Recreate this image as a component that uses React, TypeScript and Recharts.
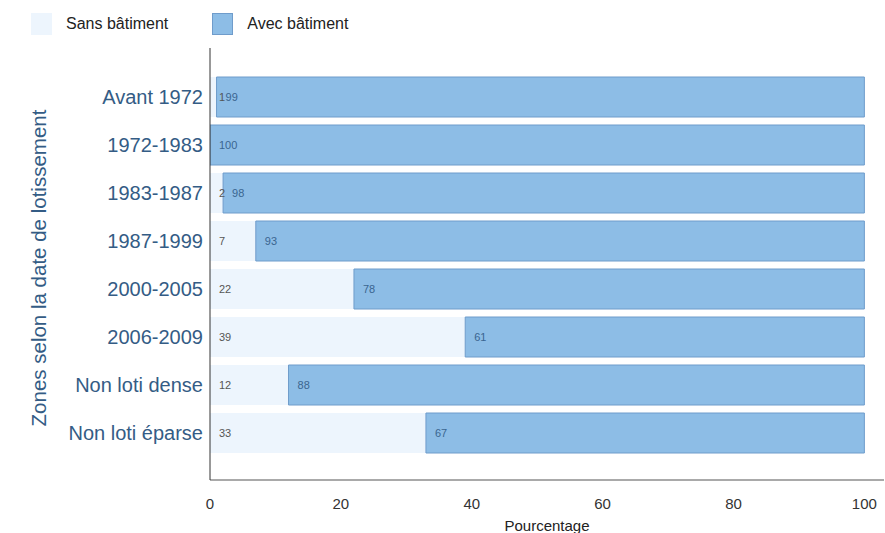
import { BarChart, Bar, XAxis, YAxis, LabelList } from 'recharts';

const zones = [
  'Avant 1972',
  '1972-1983',
  '1983-1987',
  '1987-1999',
  '2000-2005',
  '2006-2009',
  'Non loti dense',
  'Non loti éparse',
];
const sansBatiment = [1, 0, 2, 7, 22, 39, 12, 33];
const avecBatiment = [99, 100, 98, 93, 78, 61, 88, 67];
const xTicks = [0, 20, 40, 60, 80, 100];

const FONT = '"Liberation Sans", Arial, Helvetica, sans-serif';
const SANS_COLOR = '#edf5fd';
const AVEC_COLOR = '#8dbde6';

const data = zones.map((zone, i) => ({
  zone,
  sans: sansBatiment[i],
  avec: avecBatiment[i],
}));

function LegendBox() {
  const items = [
    { label: 'Sans bâtiment', color: SANS_COLOR, stroke: SANS_COLOR },
    { label: 'Avec bâtiment', color: AVEC_COLOR, stroke: '#6f9ccb' },
  ];
  return (
    <div
      style={{
        position: 'absolute',
        left: 31,
        top: 13,
        display: 'flex',
        alignItems: 'center',
        fontFamily: FONT,
        fontSize: 16,
        color: '#222',
        zIndex: 2,
      }}
    >
      {items.map((it) => (
        <div key={it.label} style={{ display: 'flex', alignItems: 'center', marginRight: 44 }}>
          <span
            style={{
              display: 'inline-block',
              width: 21,
              height: 22,
              background: it.color,
              border: `1px solid ${it.stroke}`,
              boxSizing: 'border-box',
              marginRight: 14,
            }}
          />
          <span>{it.label}</span>
        </div>
      ))}
    </div>
  );
}

const hideZero = (v: any) => (Number(v) === 0 ? '' : v);

export default function App() {
  return (
    <div style={{ position: 'absolute', left: 0, top: 0, width: 885, height: 533, background: '#fff', overflow: 'hidden' }}>
      <style>{`body{margin:0}`}</style>
      <LegendBox />
      <BarChart
        width={885}
        height={533}
        data={data}
        layout="vertical"
        margin={{ top: 48, right: 1, bottom: 0, left: 0 }}
        barCategoryGap={4}
      >
        <XAxis
          type="number"
          domain={[0, 103]}
          ticks={xTicks}
          allowDataOverflow
          tickLine={false}
          stroke="#555"
          tick={{ fill: '#333', fontSize: 15, fontFamily: FONT }}
          tickMargin={12}
          height={53}
          label={{
            value: 'Pourcentage',
            position: 'insideBottom',
            offset: 2,
            fill: '#222',
            fontSize: 15,
            fontFamily: FONT,
          }}
        />
        <YAxis
          type="category"
          dataKey="zone"
          width={210}
          axisLine={{ stroke: '#333' }}
          tickLine={false}
          padding={{ top: 25, bottom: 23 }}
          tick={{ fill: '#345c85', fontSize: 20, fontFamily: FONT }}
          tickMargin={1}
          label={{
            content: ({ viewBox }: any) => {
              const cy = viewBox.y + viewBox.height / 2 + 4;
              return (
                <text
                  x={38}
                  y={cy}
                  transform={`rotate(-90, 38, ${cy})`}
                  textAnchor="middle"
                  dominantBaseline="central"
                  fill="#345c85"
                  fontSize={20.5}
                  fontFamily={FONT}
                >
                  Zones selon la date de lotissement
                </text>
              );
            },
          }}
        />
        <Bar dataKey="sans" stackId="a" fill={SANS_COLOR} isAnimationActive={false}>
          <LabelList
            dataKey="sans"
            position="insideLeft"
            offset={9}
            formatter={hideZero}
            fill="#555"
            fontSize={11}
            fontFamily={FONT}
          />
        </Bar>
        <Bar dataKey="avec" stackId="a" fill={AVEC_COLOR} stroke="#6f9ccb" strokeWidth={1} isAnimationActive={false}>
          <LabelList
            dataKey="avec"
            position="insideLeft"
            offset={9}
            fill="#3a6590"
            fontSize={11}
            fontFamily={FONT}
          />
        </Bar>
      </BarChart>
    </div>
  );
}
